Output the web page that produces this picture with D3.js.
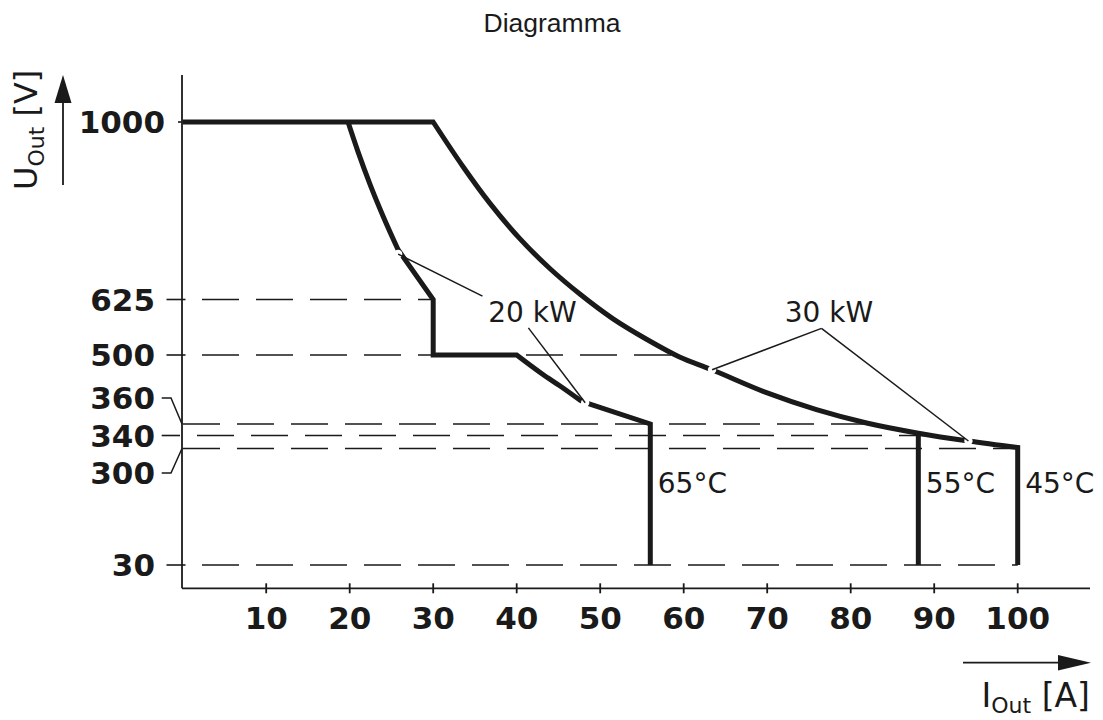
<!DOCTYPE html>
<html>
<head>
<meta charset="utf-8">
<script src="https://cdnjs.cloudflare.com/ajax/libs/d3/7.8.5/d3.min.js"></script>
<style>
  html, body { margin: 0; padding: 0; background: #fff; }
  svg { display: block; }
</style>
</head>
<body>
<svg id="chart" width="1103" height="720"></svg>
<script>
// ---------------- data ----------------
const xTicks = [10, 20, 30, 40, 50, 60, 70, 80, 90, 100];
const yTicks = [1000, 625, 500, 360, 340, 300, 30];
const yBreaks = [30, 300, 340, 360, 500, 625, 1000];

// common 1000 V plateau
const plateau = [[0, 1000], [30, 1000]];
// 20 kW derating curve (65 °C)
const kw20Upper = [[19.8, 1000], [21, 937], [22.4, 870], [24, 801], [25.8, 730]];
const kw20Step = [[25.8, 730], [30, 625], [30, 500], [40, 500]];
const kw20Lower = [[40, 500], [43.1, 461], [45.2, 437], [47.6, 408]];
const kw20Tail = [[47.6, 408], [48.5, 402], [56, 360], [56, 30]];
// 30 kW curve (45 °C)
const kw30 = [[30, 1000], [33.6, 905], [36.8, 828], [40.4, 753], [44, 690], [47.6, 636],
  [51.5, 582], [55.6, 535], [59.5, 496], [63.1, 472], [70, 423], [75.9, 389],
  [81.9, 362], [88.1, 344], [94.1, 323], [100, 303]];
const kw30Tail = [[100, 303], [100, 30]];
// 55 °C limit
const limit55 = [[88.1, 344], [88.1, 30]];

// dashed reference levels and where they end (current, A)
const refLevels = [625, 500, 360, 340, 300, 30];
const refEnds = [30, 59.5, 82.3, 89.5, 100, 100];

// annotations
const curveLabels = ["20 kW", "30 kW"];
const curveLabelPos = [[36.6, 575], [72.1, 575]];
const leaders20 = [[[35.9, 632], [25.8, 721]], [[41.4, 561], [48.2, 403]]];
const leaders30 = [[[76.5, 560], [63.4, 470]], [[76.5, 560], [94.1, 323]]];
const tempLabels = ["65°C", "55°C", "45°C"];
const tempX = [56, 88.1, 100];
const tempU = 197;

// ---------------- drawing ----------------
const svg = d3.select("#chart");
const ink = "#1a1a1a";

const x = d3.scaleLinear().domain([0, 100]).range([182.7, 1017.7]);
const y = d3.scaleLinear().domain(yBreaks).range([565, 448.5, 435.5, 424, 355, 299.5, 122]);

const axisX = 182, axisY = 588.3;

// title
svg.append("text").attr("x", 552).attr("y", 32).attr("text-anchor", "middle")
  .attr("font-family", "Liberation Sans, Arial, sans-serif").attr("font-size", 26.5)
  .attr("fill", ink).text("Diagramma");

// dashed reference lines
const dashStart = { 625: 202, 500: 202, 360: 183, 340: 197, 300: 183, 30: 202 };
refLevels.forEach((u, i) => {
  svg.append("line")
    .attr("x1", dashStart[u]).attr("x2", x(refEnds[i]))
    .attr("y1", y(u)).attr("y2", y(u))
    .attr("stroke", ink).attr("stroke-width", 1.6)
    .attr("stroke-dasharray", "37 17");
});

// axes
svg.append("line").attr("x1", axisX).attr("x2", axisX).attr("y1", 75).attr("y2", axisY)
  .attr("stroke", ink).attr("stroke-width", 1.8);
svg.append("line").attr("x1", axisX).attr("x2", 1090).attr("y1", axisY).attr("y2", axisY)
  .attr("stroke", ink).attr("stroke-width", 1.8);

// x ticks
xTicks.forEach(t => {
  svg.append("line").attr("x1", x(t)).attr("x2", x(t)).attr("y1", axisY - 5).attr("y2", axisY + 5)
    .attr("stroke", ink).attr("stroke-width", 1.8);
  svg.append("text").attr("x", x(t)).attr("y", 629).attr("text-anchor", "middle")
    .attr("font-family", "DejaVu Sans, sans-serif").attr("font-weight", "bold")
    .attr("font-size", 31).attr("fill", ink).text(t);
});

// y ticks + labels
yTicks.forEach(t => {
  let ly = y(t), lx = 155;
  if (t === 1000) {
    lx = 165;
    svg.append("line").attr("x1", 178).attr("x2", axisX).attr("y1", ly).attr("y2", ly)
      .attr("stroke", ink).attr("stroke-width", 1.6);
  } else if (t === 360 || t === 300) {
    const off = t === 360 ? -26 : 24.5;
    const lyy = ly + off;
    svg.append("path")
      .attr("d", `M161.7,${lyy} L171,${lyy} L${axisX},${ly}`)
      .attr("fill", "none").attr("stroke", ink).attr("stroke-width", 1.5);
    ly = lyy;
  } else if (t === 340) {
    svg.append("line").attr("x1", 161.7).attr("x2", 180).attr("y1", ly).attr("y2", ly)
      .attr("stroke", ink).attr("stroke-width", 1.6);
  } else {
    svg.append("line").attr("x1", 166.5).attr("x2", 185.5).attr("y1", ly).attr("y2", ly)
      .attr("stroke", ink).attr("stroke-width", 1.6);
  }
  svg.append("text").attr("x", lx).attr("y", ly).attr("dy", "0.36em")
    .attr("text-anchor", "end")
    .attr("font-family", "DejaVu Sans, sans-serif").attr("font-weight", "bold")
    .attr("font-size", 31).attr("fill", ink).text(t);
});

// curves
const lin = d3.line().x(d => x(d[0])).y(d => y(d[1]));
const smooth = d3.line().x(d => x(d[0])).y(d => y(d[1])).curve(d3.curveMonotoneX);
const join = (parts) => parts.map((p, i) => i === 0 ? p : p.replace(/^M/, "L")).join("");

const curveStyle = sel => sel.attr("fill", "none").attr("stroke", ink)
  .attr("stroke-width", 5).attr("stroke-linejoin", "miter").attr("stroke-miterlimit", 10);

svg.append("path").attr("d", join([lin(plateau), smooth(kw30), lin(kw30Tail)])).call(curveStyle);
svg.append("path").attr("d", join([smooth(kw20Upper), lin(kw20Step), smooth(kw20Lower), lin(kw20Tail)])).call(curveStyle);
svg.append("path").attr("d", lin(limit55)).call(curveStyle);

// leaders with white gaps at the curve
const leaders = leaders20.concat(leaders30);
leaders.forEach(l => {
  svg.append("circle").attr("cx", x(l[1][0])).attr("cy", y(l[1][1])).attr("r", 4.2).attr("fill", "#fff");
});
leaders.forEach(l => {
  svg.append("path").attr("d", lin(l)).attr("fill", "none").attr("stroke", ink).attr("stroke-width", 1.5);
});

// curve labels
curveLabels.forEach((s, i) => {
  svg.append("text").attr("x", x(curveLabelPos[i][0])).attr("y", y(curveLabelPos[i][1]))
    .attr("font-family", "DejaVu Sans, sans-serif").attr("font-size", 28)
    .attr("fill", ink).text(s);
});
tempLabels.forEach((s, i) => {
  svg.append("text").attr("x", x(tempX[i]) + 7.5).attr("y", y(tempU))
    .attr("font-family", "DejaVu Sans, sans-serif").attr("font-size", 28)
    .attr("fill", ink).text(s);
});

// axis titles with arrows
svg.append("line").attr("x1", 63).attr("x2", 63).attr("y1", 185).attr("y2", 98)
  .attr("stroke", ink).attr("stroke-width", 1.8);
svg.append("path").attr("d", "M63,75 L71.5,103 L54.5,103 Z").attr("fill", ink);
svg.append("line").attr("x1", 963).attr("x2", 1065).attr("y1", 662.7).attr("y2", 662.7)
  .attr("stroke", ink).attr("stroke-width", 1.8);
svg.append("path").attr("d", "M1091,662.7 L1058,655 L1058,670.5 Z").attr("fill", ink);

const yt = svg.append("text").attr("transform", "translate(37,190) rotate(-90)")
  .attr("font-family", "DejaVu Sans, sans-serif").attr("font-size", 32).attr("fill", ink);
yt.append("tspan").text("U");
yt.append("tspan").attr("font-size", 22).attr("dy", 7).text("Out");
yt.append("tspan").attr("dy", -7).text(" [V]");

const xt = svg.append("text").attr("x", 1090).attr("y", 707).attr("text-anchor", "end")
  .attr("font-family", "DejaVu Sans, sans-serif").attr("font-size", 33).attr("fill", ink);
xt.append("tspan").text("I");
xt.append("tspan").attr("font-size", 22).attr("dy", 6).text("Out");
xt.append("tspan").attr("dy", -6).text(" [A]");
</script>
</body>
</html>
